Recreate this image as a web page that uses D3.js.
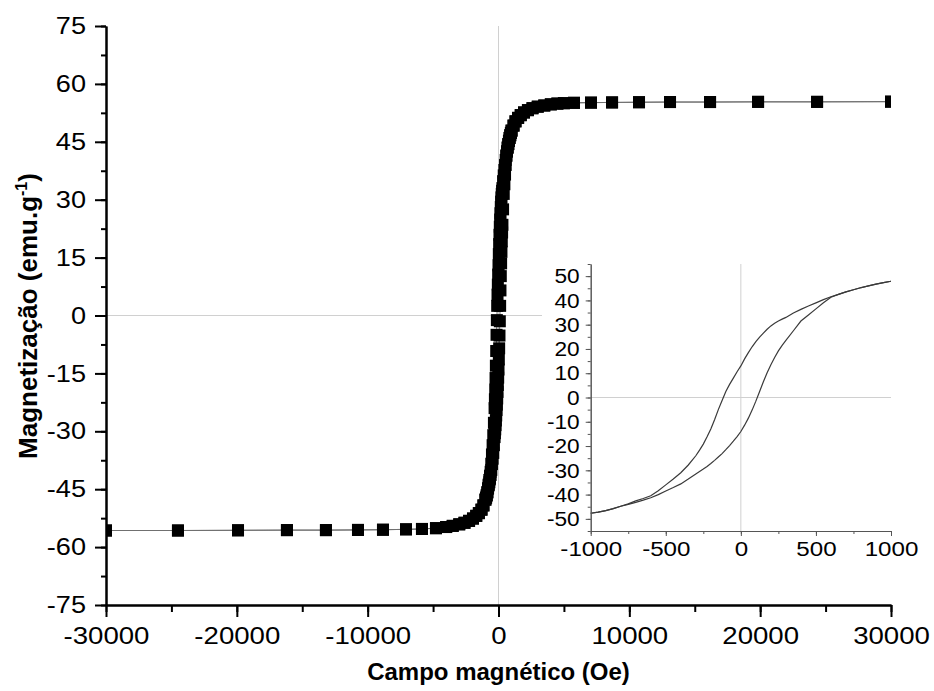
<!DOCTYPE html>
<html>
<head>
<meta charset="utf-8">
<script src="https://cdn.jsdelivr.net/npm/d3@7"></script>
<style>
  html, body { margin: 0; padding: 0; background: #fff; }
  svg { display: block; }
  text { font-family: "Liberation Sans", Arial, sans-serif; }
</style>
</head>
<body>
<svg id="chart" width="934" height="691"></svg>
<script>
// ---------- DATA ----------
// Hysteresis loop near origin (Oe -> emu/g)
const loopH    = [-1000,-950,-900,-850,-800,-750,-700,-650,-600,-550,-500,-450,-400,-350,-300,-275,-250,-225,-200,-175,-150,-125,-100,-75,-50,-25,0,25,50,75,100,125,150,175,200,225,250,275,300,350,400,450,500,550,600,650,700,750,800,850,900,950,1000];
const loopDesc = [-47.7,-47.2,-46.6,-45.8,-44.8,-43.8,-42.6,-41.6,-40.5,-38.4,-36.0,-33.6,-31.0,-27.8,-24.0,-21.7,-19.2,-16.2,-13.0,-9.2,-5.0,-1.2,2.5,5.4,8.0,10.6,13.0,15.9,18.5,20.9,23.0,24.9,26.5,28.1,29.5,30.6,31.5,32.3,33.0,34.8,36.3,37.7,39.0,40.3,41.5,42.5,43.5,44.4,45.2,46.0,46.7,47.3,47.9];
const loopAsc  = [-47.7,-47.2,-46.6,-45.8,-44.8,-44.0,-43.2,-42.3,-41.3,-40.0,-38.5,-37.1,-35.6,-33.6,-31.5,-30.5,-29.5,-28.4,-27.2,-25.9,-24.5,-23.1,-21.5,-19.8,-18.0,-16.1,-14.0,-11.4,-8.5,-5.2,-1.5,2.5,6.5,10.2,13.5,16.5,19.2,21.5,23.5,27.5,31.5,34.0,36.5,39.0,41.3,42.5,43.5,44.4,45.3,46.0,46.7,47.3,47.9];
// High-field parts
const posH = [1150,1300,1500,1700,1950,2250,2600,3000,3500,4000,4500,5000,5770,7070,8680,10740,13110,16170,19840,24350,30000];
const posM = [49.2,50.3,51.2,51.9,52.6,53.2,53.7,54.1,54.4,54.7,54.9,55.0,55.1,55.15,55.2,55.25,55.3,55.3,55.35,55.35,55.4];
const negH = [-1150,-1300,-1500,-1700,-1950,-2250,-2600,-3000,-3500,-4000,-4780,-5850,-7070,-8830,-10740,-13190,-16170,-19910,-24500,-30000];
const negM = [-49.2,-50.3,-51.2,-51.9,-52.6,-53.2,-53.7,-54.1,-54.5,-54.8,-55.1,-55.3,-55.4,-55.5,-55.55,-55.6,-55.6,-55.65,-55.7,-55.7];

const mainXTicks = [-30000,-20000,-10000,0,10000,20000,30000];
const mainYTicks = [-75,-60,-45,-30,-15,0,15,30,45,60,75];
const insetXTicks = [-1000,-500,0,500,1000];
const insetYTicks = [-50,-40,-30,-20,-10,0,10,20,30,40,50];

// ---------- BUILD SERIES ----------
const zip = (hs, ms) => hs.map((h, i) => ({h, m: ms[i]}));
const loopD = zip(loopH, loopDesc), loopA = zip(loopH, loopAsc);
const pos = zip(posH, posM), neg = zip(negH, negM);
const descending = pos.slice().reverse().concat(loopD.slice().reverse(), neg);
const ascending  = neg.slice().reverse().concat(loopA, pos);

const fmt = d => String(d);
const svg = d3.select("#chart");

// ---------- MAIN PLOT ----------
const x = d3.scaleLinear().domain([-30000, 30000]).range([106, 891]);
const y = d3.scaleLinear().domain([-75, 75]).range([605, 26]);

svg.append("line").attr("x1", x(0)).attr("x2", x(0)).attr("y1", y(75)).attr("y2", y(-75))
   .attr("stroke", "#d0d0d0").attr("stroke-width", 1);
svg.append("line").attr("x1", x(-30000)).attr("x2", x(30000)).attr("y1", y(0)).attr("y2", y(0))
   .attr("stroke", "#d0d0d0").attr("stroke-width", 1);

svg.append("clipPath").attr("id", "mainClip").append("rect")
   .attr("x", x(-30000)).attr("y", 0).attr("width", x(30000) - x(-30000)).attr("height", 691);

const gData = svg.append("g").attr("clip-path", "url(#mainClip)");
const line = d3.line().x(d => x(d.h)).y(d => y(d.m));
[descending, ascending].forEach(s => {
  gData.append("path").attr("d", line(s)).attr("fill", "none")
       .attr("stroke", "#707070").attr("stroke-width", 1);
});
const sq = 12;
gData.selectAll("rect.pt").data(descending.concat(ascending)).enter().append("rect")
     .attr("class", "pt")
     .attr("x", d => x(d.h) - sq / 2).attr("y", d => y(d.m) - sq / 2)
     .attr("width", sq).attr("height", sq).attr("fill", "#000");

function styleAxis(g, size, color, width, sx, side) {
  g.select(".domain").attr("stroke", color).attr("stroke-width", width);
  g.selectAll(".tick line").attr("stroke", color).attr("stroke-width", width);
  const t = g.selectAll(".tick text").attr("fill", "#000").attr("font-size", size)
   .attr("font-family", "Liberation Sans, Arial, sans-serif");
  if (sx && sx !== 1) {
    if (side === "left") t.attr("x", function() { return (+d3.select(this).attr("x")) / sx; });
    t.attr("transform", `scale(${sx},1)`);
  }
}
const yMinor = d3.range(-75, 75.1, 7.5);
svg.append("g").attr("transform", `translate(${x(-30000)},0)`)
   .call(d3.axisLeft(y).tickValues(yMinor).tickSize(5).tickFormat("").tickSizeOuter(0))
   .call(g => styleAxis(g, 0, "#000", 2));
svg.append("g").attr("transform", `translate(${x(-30000)},0)`)
   .call(d3.axisLeft(y).tickValues(mainYTicks).tickSize(11).tickPadding(9).tickFormat(fmt).tickSizeOuter(0))
   .call(g => styleAxis(g, "24px", "#000", 2, 1.13, "left"));

const xMinor = d3.range(-30000, 30001, 5000);
svg.append("g").attr("transform", `translate(0,${y(-75)})`)
   .call(d3.axisBottom(x).tickValues(xMinor).tickSize(7).tickFormat("").tickSizeOuter(0))
   .call(g => styleAxis(g, 0, "#000", 2));
svg.append("g").attr("transform", `translate(0,${y(-75)})`)
   .call(d3.axisBottom(x).tickValues(mainXTicks).tickSize(12).tickPadding(10).tickFormat(fmt).tickSizeOuter(0))
   .call(g => styleAxis(g, "24px", "#000", 2, 1.15, "bottom"));

svg.append("text").attr("x", (x(-30000) + x(30000)) / 2).attr("y", 680)
   .attr("text-anchor", "middle").attr("font-size", "24px").attr("font-weight", "bold")
   .text("Campo magnético (Oe)");
const yt = svg.append("text").attr("transform", "translate(37,316) rotate(-90)")
   .attr("text-anchor", "middle").attr("font-size", "26px").attr("font-weight", "bold");
yt.append("tspan").text("Magnetização (emu.g");
yt.append("tspan").attr("font-size", "16px").attr("dy", "-10").text("-1");
yt.append("tspan").attr("dy", "10").text(")");

// ---------- INSET ----------
const ix = d3.scaleLinear().domain([-1000, 1000]).range([590.7, 891]);
const iy = d3.scaleLinear().domain([-55, 55]).range([531, 264]);

svg.append("rect").attr("x", 542).attr("y", 256).attr("width", 385).attr("height", 312).attr("fill", "#fff");

svg.append("line").attr("x1", ix(0)).attr("x2", ix(0)).attr("y1", iy(55)).attr("y2", iy(-55))
   .attr("stroke", "#d0d0d0").attr("stroke-width", 1);
svg.append("line").attr("x1", ix(-1000)).attr("x2", ix(1000)).attr("y1", iy(0)).attr("y2", iy(0))
   .attr("stroke", "#d0d0d0").attr("stroke-width", 1);

const iline = d3.line().x(d => ix(d.h)).y(d => iy(d.m));
[loopD, loopA].forEach(s => {
  svg.append("path").attr("d", iline(s)).attr("fill", "none")
     .attr("stroke", "#3a3a3a").attr("stroke-width", 1.2);
});

const iyMinor = d3.range(-55, 55.1, 5);
svg.append("g").attr("transform", `translate(${ix(-1000)},0)`)
   .call(d3.axisLeft(iy).tickValues(iyMinor).tickSize(3).tickFormat("").tickSizeOuter(0))
   .call(g => styleAxis(g, 0, "#555", 1));
svg.append("g").attr("transform", `translate(${ix(-1000)},0)`)
   .call(d3.axisLeft(iy).tickValues(insetYTicks).tickSize(5).tickPadding(6).tickFormat(fmt).tickSizeOuter(0))
   .call(g => styleAxis(g, "21px", "#555", 1, 1.08, "left"));

const ixMinor = d3.range(-1000, 1001, 250);
svg.append("g").attr("transform", `translate(0,${iy(-55)})`)
   .call(d3.axisBottom(ix).tickValues(ixMinor).tickSize(3).tickFormat("").tickSizeOuter(0))
   .call(g => styleAxis(g, 0, "#555", 1));
svg.append("g").attr("transform", `translate(0,${iy(-55)})`)
   .call(d3.axisBottom(ix).tickValues(insetXTicks).tickSize(5).tickPadding(5).tickFormat(fmt).tickSizeOuter(0))
   .call(g => styleAxis(g, "21px", "#555", 1, 1.15, "bottom"));
</script>
</body>
</html>
